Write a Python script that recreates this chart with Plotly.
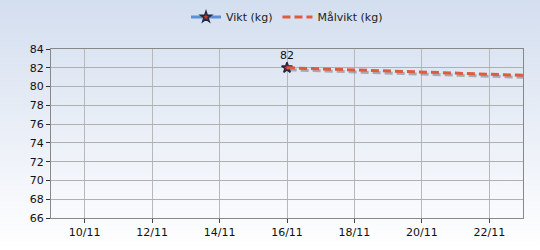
import plotly.graph_objects as go
import base64
import pandas as pd

# Data
vikt_dates = ["2023-11-16"]
vikt_values = [82]
mal_dates = ["2023-11-16", "2023-11-23"]
mal_values = [82.0, 81.2]
y_ticks = [66, 68, 70, 72, 74, 76, 78, 80, 82, 84]
x_tick_dates = ["2023-11-10", "2023-11-12", "2023-11-14", "2023-11-16",
                "2023-11-18", "2023-11-20", "2023-11-22"]
x_tick_labels = ["10/11", "12/11", "14/11", "16/11", "18/11", "20/11", "22/11"]

W, H = 540, 250
ml, mr, mt, mb = 51, 17, 49, 32
pw, ph = W - ml - mr, H - mt - mb

svg = f'''<svg xmlns="http://www.w3.org/2000/svg" width="{W}" height="{H}" preserveAspectRatio="none">
<defs><linearGradient id="g" x1="0" y1="0" x2="0" y2="1">
<stop offset="0" stop-color="#d3deef"/><stop offset="1" stop-color="#ffffff"/>
</linearGradient></defs><rect width="{W}" height="{H}" fill="url(#g)"/></svg>'''
src = "data:image/svg+xml;base64," + base64.b64encode(svg.encode()).decode()

mal_dt = pd.to_datetime(mal_dates)
shadow_dt = mal_dt + pd.Timedelta(hours=1.2)
shadow_vals = [v - 0.22 for v in mal_values]

font = "DejaVu Sans"
fig = go.Figure()
fig.add_trace(go.Scatter(x=shadow_dt, y=shadow_vals, mode="lines",
                         line=dict(color="rgba(120,120,120,0.55)", width=3, dash="8px,4px"),
                         showlegend=False, hoverinfo="skip"))
fig.add_trace(go.Scatter(x=vikt_dates, y=vikt_values, mode="lines+markers+text", name="Vikt (kg)",
                         text=[str(v) for v in vikt_values], textposition="top center",
                         textfont=dict(family=font, size=11, color="#111"),
                         marker=dict(symbol="star", size=8, color="#c0392b",
                                     line=dict(color="#202840", width=1.5)),
                         line=dict(color="#5b8fd6", width=3)))
fig.add_trace(go.Scatter(x=mal_dt, y=mal_values, mode="lines", name="Målvikt (kg)",
                         line=dict(color="#e05a3c", width=3, dash="8px,4px")))

fig.update_layout(
    width=W, height=H,
    margin=dict(l=ml, r=mr, t=mt, b=mb, autoexpand=False),
    paper_bgcolor="white", plot_bgcolor="rgba(0,0,0,0)",
    font=dict(family=font, size=11, color="#111"),
    showlegend=True,
    legend=dict(orientation="h", x=0.5, xanchor="center", y=1 + 32 / ph, yanchor="middle",
                font=dict(family=font, size=11, color="#222"), bgcolor="rgba(0,0,0,0)"),
    images=[dict(source=src, xref="paper", yref="paper", x=-ml / pw, y=1 + mt / ph,
                 sizex=W / pw, sizey=H / ph, xanchor="left", yanchor="top",
                 sizing="stretch", layer="below")],
    xaxis=dict(range=["2023-11-09", "2023-11-23"], tickvals=x_tick_dates, ticktext=x_tick_labels,
               showgrid=True, gridcolor="#b8b8b8", gridwidth=1,
               showline=True, linecolor="#888", mirror=True,
               ticks="outside", ticklen=4, tickcolor="#444", zeroline=False),
    yaxis=dict(range=[66, 84], tickvals=y_ticks, showgrid=True, gridcolor="#b0b0b0", gridwidth=1,
               showline=True, linecolor="#888", mirror=True,
               ticks="outside", ticklen=4, tickcolor="#333", zeroline=False),
)
fig.write_html("out.html")
